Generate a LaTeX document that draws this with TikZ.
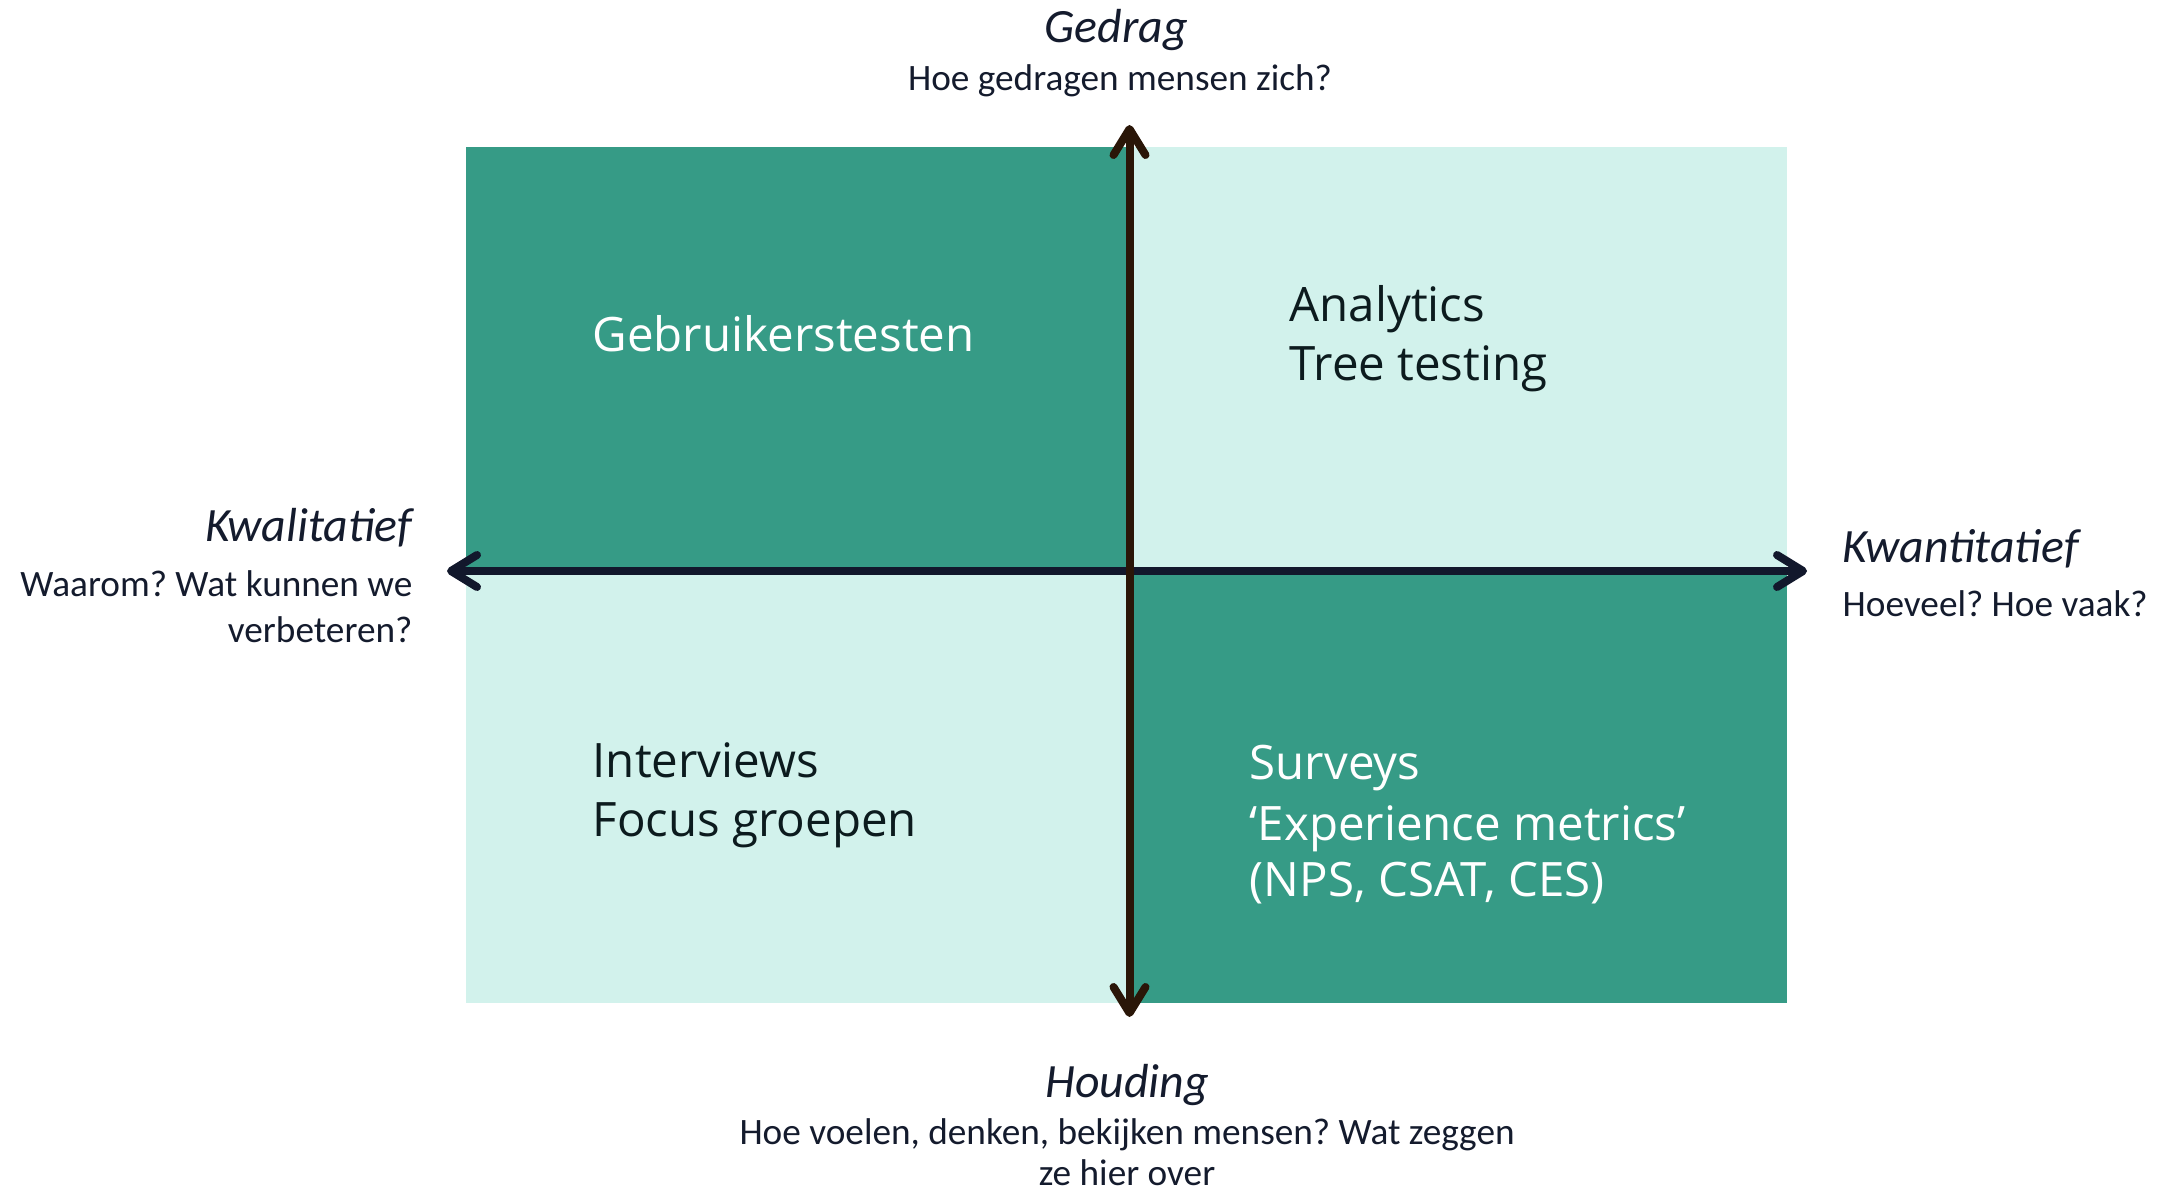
\documentclass[tikz,border=0pt]{standalone}
\usepackage{fontspec}
\setmainfont{Carlito}
\newfontfamily\quadfont{Open Sans}
\usepackage{tikz}
\usetikzlibrary{arrows.meta}
\frenchspacing

\definecolor{qdark}{HTML}{369B86}
\definecolor{qlight}{HTML}{D2F2EC}
\definecolor{axisx}{HTML}{12182C}
\definecolor{axisy}{HTML}{2A1608}
\definecolor{labeltxt}{HTML}{141B2D}
\definecolor{quadtxt}{HTML}{0C1B1E}

\tikzset{
  >={Straight Barb[round, length=2.6mm, width=3.2mm]},
  axis/.style={line width=0.8mm, line cap=round},
  axtitle/.style={font=\itshape\fontsize{13.6}{16}\selectfont, text=labeltxt, inner sep=0pt},
  axtext/.style={font=\fontsize{10.6}{12.5}\selectfont, text=labeltxt, inner sep=0pt},
  quadlabel/.style={font=\quadfont\fontsize{13.5}{16.8}\selectfont, inner sep=0pt, anchor=base west}
}

\begin{document}
\begin{tikzpicture}[x=0.1mm, y=-0.1mm]
\useasboundingbox (0,0) rectangle (2164,1192);
% quadrants
\fill[qdark]  (466,147) rectangle (1129,571);
\fill[qlight] (1129,147) rectangle (1787,571);
\fill[qlight] (466,571) rectangle (1129,1003);
\fill[qdark]  (1129,571) rectangle (1787,1003);

% axes
\coordinate (west) at (447,571);
\coordinate (east) at (1807,571);
\coordinate (north) at (1129.5,125);
\coordinate (south) at (1129.5,1017);
\draw[axis, axisx, <->] (west) -- (east);
\draw[axis, axisy, <->] (south) -- (north);

% axis labels
\path
(1116,43) node[axtitle, anchor=base] (gedrag) {Gedrag}
(1120,91) node[axtext, anchor=base] (gedragq) {Hoe gedragen mensen zich?};
\path
(1127,1097) node[axtitle, anchor=base] (houding) {Houding}
(1127,1144) node[axtext, anchor=base] (houdingq) {Hoe voelen, denken, bekijken mensen? Wat zeggen}
(1127,1185) node[axtext, anchor=base] (houdingq2) {ze hier over};
\path
(413,541) node[axtitle, anchor=base east] (kwal) {Kwalitatief}
(413,596) node[axtext, anchor=base east] (kwalq) {Waarom? Wat kunnen we}
(413,642) node[axtext, anchor=base east] (kwalq2) {verbeteren?};
\path
(1842,563) node[axtitle, anchor=base west] (kwant) {Kwantitatief}
(1842,616) node[axtext, anchor=base west] (kwantq) {Hoeveel? Hoe vaak?};

% quadrant texts
\node[quadlabel, text=white] (gebruik) at (592,352) {Gebruikerstesten};
\node[quadlabel, text=quadtxt] (analytics) at (1289,322) {Analytics};
\node[quadlabel, text=quadtxt] (tree) at (1289,381) {Tree testing};
\node[quadlabel, text=quadtxt] (interviews) at (592,777) {Interviews};
\node[quadlabel, text=quadtxt] (focus) at (592,836) {Focus groepen};
\node[quadlabel, text=white] (surveys) at (1249,779) {Surveys};
\node[quadlabel, text=white] (metrics) at (1249,840) {‘Experience metrics’};
\node[quadlabel, text=white] (nps) at (1249,896) {(NPS, CSAT, CES)};
\end{tikzpicture}
\end{document}
